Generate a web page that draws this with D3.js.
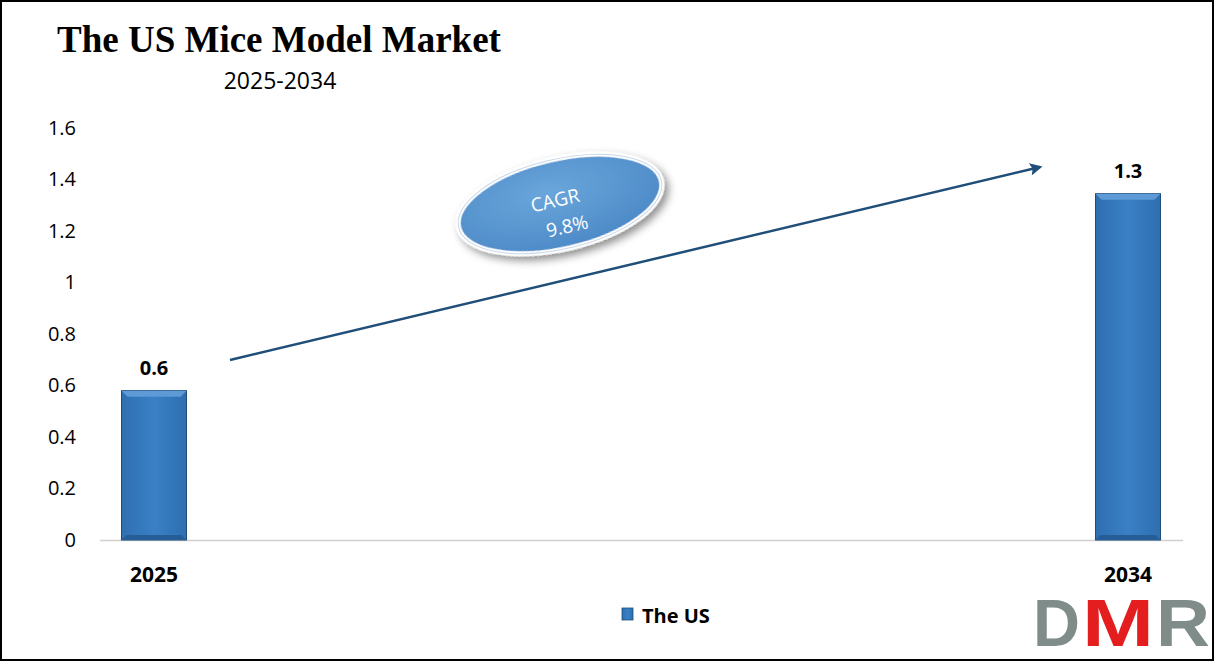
<!DOCTYPE html>
<html><head><meta charset="utf-8">
<script src="https://cdn.jsdelivr.net/npm/d3@7/dist/d3.min.js"></script>
<style>body{margin:0;background:#fff}svg{display:block}</style>
</head><body>
<svg id="c" width="1216" height="663"></svg>
<script>
const categories = ["2025", "2034"];
const values = [0.58, 1.345];
const valueLabels = ["0.6", "1.3"];
const yTicks = [0, 0.2, 0.4, 0.6, 0.8, 1, 1.2, 1.4, 1.6];
const seriesName = "The US";
const cagrText = ["CAGR", "9.8%"];

const svg = d3.select("#c");
const defs = svg.append("defs");
const g1 = defs.append("linearGradient").attr("id","barG").attr("x1","0").attr("x2","1");
g1.append("stop").attr("offset","0").attr("stop-color","#2e6fb0");
g1.append("stop").attr("offset","0.5").attr("stop-color","#3a80c6");
g1.append("stop").attr("offset","1").attr("stop-color","#2e6fb0");
const f = defs.append("filter").attr("id","sh").attr("x","-20%").attr("y","-20%").attr("width","150%").attr("height","160%");
f.append("feDropShadow").attr("dx",3).attr("dy",5).attr("stdDeviation",4).attr("flood-color","#000").attr("flood-opacity",0.45);
const eg = defs.append("radialGradient").attr("id","ellG").attr("cx","0.45").attr("cy","0.35").attr("r","0.7");
eg.append("stop").attr("offset","0").attr("stop-color","#6aa6db");
eg.append("stop").attr("offset","1").attr("stop-color","#4a88c6");
defs.append("marker").attr("id","arr").attr("viewBox","0 0 10 10").attr("refX",8).attr("refY",5)
  .attr("markerWidth",6).attr("markerHeight",5).attr("orient","auto")
  .append("path").attr("d","M0,0 L10,5 L0,10 L2,5 Z").attr("fill","#1f4e79");

// border
svg.append("rect").attr("x",1).attr("y",1).attr("width",1212).attr("height",659)
  .attr("fill","none").attr("stroke","#000").attr("stroke-width",2);

const y = d3.scaleLinear().domain([0,1.6]).range([540,128]);
const x = d3.scalePoint().domain(categories).range([154,1128]);
const bw = 65;

// title
svg.append("text").attr("x",57).attr("y",52).attr("font-family","Liberation Serif, Times New Roman, serif")
  .attr("font-weight","bold").attr("font-size",37).attr("fill","#000").text("The US Mice Model Market");
svg.append("text").attr("x",280).attr("y",89).attr("text-anchor","middle").attr("font-family","Open Sans, sans-serif")
  .attr("font-size",23).attr("fill","#000").text("2025-2034");

// y axis
const yAxis = d3.axisLeft(y).tickValues(yTicks).tickSize(0).tickPadding(0).tickFormat(d3.format("~g"));
const ya = svg.append("g").attr("transform","translate(76,0)").call(yAxis);
ya.select(".domain").remove();
ya.selectAll("text").attr("font-family","Open Sans, sans-serif").attr("font-size",20).attr("fill","#000");

// baseline
svg.append("line").attr("x1",100).attr("x2",1183).attr("y1",y(0)+0.5).attr("y2",y(0)+0.5)
  .attr("stroke","#d0d0d0").attr("stroke-width",1.5);

// bars
const bars = svg.append("g");
categories.forEach((c,i)=>{
  const x0 = x(c)-bw/2, y0 = y(values[i]), h = y(0)-y(values[i]);
  bars.append("rect").attr("x",x0).attr("y",y0).attr("width",bw).attr("height",h)
    .attr("fill","url(#barG)").attr("stroke","#1f4e79").attr("stroke-width",1);
  bars.append("path").attr("d",`M${x0},${y0} L${x0+bw},${y0} L${x0+bw-6},${y0+6} L${x0+6},${y0+6} Z`).attr("fill","#5d9ad6");
  bars.append("path").attr("d",`M${x0},${y0+h} L${x0+bw},${y0+h} L${x0+bw-5},${y0+h-5} L${x0+5},${y0+h-5} Z`).attr("fill","#255d96");
  svg.append("text").attr("x",x(c)).attr("y",y0-16).attr("text-anchor","middle")
    .attr("font-family","Open Sans, sans-serif").attr("font-weight","bold").attr("font-size",20).attr("fill","#000").text(valueLabels[i]);
  svg.append("text").attr("x",x(c)).attr("y",582).attr("text-anchor","middle")
    .attr("font-family","Open Sans, sans-serif").attr("font-weight","bold").attr("font-size",21).attr("fill","#000").text(c);
});

// arrow
svg.append("line").attr("x1",230).attr("y1",360).attr("x2",1040).attr("y2",167)
  .attr("stroke","#1f4e79").attr("stroke-width",2.5).attr("marker-end","url(#arr)");

// CAGR ellipse
const eG = svg.append("g").attr("transform","translate(560,204) rotate(-13)");
eG.append("ellipse").attr("rx",104).attr("ry",45).attr("fill","url(#ellG)").attr("stroke","#fff").attr("stroke-width",5).attr("filter","url(#sh)");
eG.append("ellipse").attr("rx",104).attr("ry",45).attr("fill","none").attr("stroke","#c8d8e8").attr("stroke-width",1);
eG.append("text").attr("x",-4).attr("y",2).attr("text-anchor","middle").attr("font-family","Open Sans, sans-serif")
  .attr("font-size",19).attr("fill","#fff").text(cagrText[0]);
eG.append("text").attr("x",2).attr("y",30).attr("text-anchor","middle").attr("font-family","Open Sans, sans-serif")
  .attr("font-size",19).attr("fill","#fff").text(cagrText[1]);

// legend
svg.append("rect").attr("x",622).attr("y",608).attr("width",11).attr("height",12).attr("fill","url(#barG)").attr("stroke","#1f4e79").attr("stroke-width",0.8);
svg.append("text").attr("x",642).attr("y",623).attr("font-family","Open Sans, sans-serif").attr("font-weight","bold")
  .attr("font-size",20).attr("fill","#000").text(seriesName);

// DMR logo
const lg = svg.append("g").attr("font-family","Liberation Sans, Arial, sans-serif").attr("font-weight","bold").attr("font-size",66);
lg.append("text").attr("x",1033).attr("y",646).attr("fill","#7f8c8a").attr("textLength",47).attr("lengthAdjust","spacingAndGlyphs").text("D");
lg.append("text").attr("x",1082).attr("y",646).attr("fill","#e41e1e").attr("textLength",72).attr("lengthAdjust","spacingAndGlyphs").text("M");
lg.append("text").attr("x",1156).attr("y",646).attr("fill","#7f8c8a").attr("textLength",54).attr("lengthAdjust","spacingAndGlyphs").text("R");
</script>
</body></html>
